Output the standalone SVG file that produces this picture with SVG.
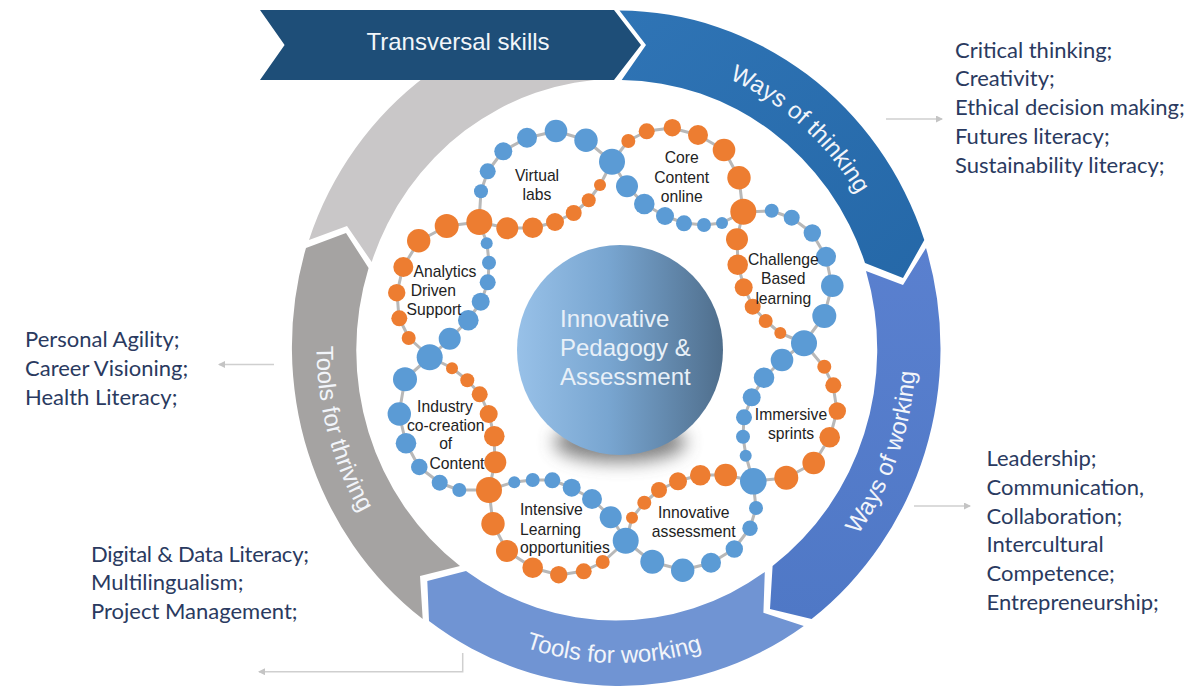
<svg xmlns="http://www.w3.org/2000/svg" width="1200" height="696" viewBox="0 0 1200 696">
<style>
.b{fill:#5b9bd5}
.o{fill:#ed7d31}
.strand{fill:none;stroke:#b8b8b8;stroke-width:3;stroke-linejoin:round}
.arr{fill:none;stroke:#cfcfcf;stroke-width:1.5;marker-end:url(#ah)}
.side{font-family:Lato,"Liberation Sans",sans-serif;font-size:22px;fill:#2a3a60}
.lab{font-family:"Liberation Sans",Arial,sans-serif;font-size:15.7px;fill:#222;text-anchor:middle}
.lft{text-anchor:start}
.ring{font-family:"Liberation Sans",Arial,sans-serif;font-size:24px;fill:#f2f5fa;text-anchor:middle}
.core{font-family:"Liberation Sans",Arial,sans-serif;font-size:24px;fill:#e8f0f8}
</style>
<defs>
<marker id="ah" markerWidth="8" markerHeight="8" refX="6" refY="3.5" orient="auto" markerUnits="userSpaceOnUse"><path d="M0,0L7,3.5L0,7Z" fill="#c4c4c4"/></marker>
<linearGradient id="sph" x1="0" y1="0" x2="1" y2="0"><stop offset="0" stop-color="#98c1e8"/><stop offset=".45" stop-color="#78a5d0"/><stop offset="1" stop-color="#4f6e8c"/></linearGradient>
<linearGradient id="wot" x1="0" y1="0" x2="1" y2="1"><stop offset="0" stop-color="#2f74b5"/><stop offset="1" stop-color="#2568a8"/></linearGradient>
<linearGradient id="wow" x1="0" y1="0" x2="0" y2="1"><stop offset="0" stop-color="#5a80cf"/><stop offset="1" stop-color="#4f78c6"/></linearGradient>
<filter id="blur" x="-50%" y="-100%" width="200%" height="300%"><feGaussianBlur stdDeviation="9"/></filter>
<path id="pWot" d="M618,55A281,294 0 0 1 894.7,298"/>
<path id="pWow" d="M767,620.6A298,314 0 0 0 898,241.6"/>
<path id="pTow" d="M425.2,589.5A300,314 0 0 0 810.8,589.5"/>
<path id="pTot" d="M371,167.7A301,316 0 0 0 490.8,635.4"/>
</defs>
<rect width="1200" height="696" fill="#fff"/>

<g id="segment-transversal-back"><path d="M309,240L347,226L371.7,262A260,270 0 0 1 614,79L614,12A324,339 0 0 0 309,240Z" fill="#c9c7c8"/></g>
<g id="segment-tools-for-thriving"><path d="M306,248L346,233L368.6,268A260,270 0 0 0 460,566L420,576L422.7,619A324,339 0 0 1 306,248Z" fill="#a5a3a2"/><text class="ring"><textPath href="#pTot" startOffset="50.7%">Tools for thriving</textPath></text></g>
<g id="segment-tools-for-working"><path d="M764.8,572L763.4,612.7L803.8,626A324,339 0 0 1 429,621L427.3,581L466,571A260,270 0 0 0 764.8,572Z" fill="#7094d3"/><text class="ring"><textPath href="#pTow" startOffset="49%">Tools for working</textPath></text></g>
<g id="segment-ways-of-working"><path d="M926,248L903,285L866,271A260,270 0 0 1 772.6,566L770,609L811.6,619A324,339 0 0 0 926,248Z" fill="url(#wow)"/><text class="ring"><textPath href="#pWow" startOffset="49.3%">Ways of working</textPath></text></g>
<g id="segment-ways-of-thinking"><path d="M619.5,10.5L646,45L621.7,80A260,270 0 0 1 865,263L903,278L924.3,240A324,339 0 0 0 619.5,10.5Z" fill="url(#wot)"/><text class="ring"><textPath href="#pWot" startOffset="50.5%">Ways of thinking</textPath></text></g>
<g id="banner-transversal-skills"><path d="M260,10L614,10L641,45L614,80L260,80L284.6,45Z" fill="#1e4e78"/><text x="458" y="50" font-family="Liberation Sans,Arial,sans-serif" font-size="24" fill="#f2f6fa" text-anchor="middle">Transversal skills</text></g>

<g id="connectors">
<g id="bead-strands">
<path class="strand" d="M612,162L586,140L556,131L527,138L503,151L488,171L481,191L479,222L507,228L533,228L555,222L574,213L589,200L600,185L612,162"/>
<path class="strand" d="M612,162L627,186L644,204L665,216L684,223L704,225L722,223L743,212L739,178L724,150L698,135L672,128L647,131L628,141L612,162"/>
<path class="strand" d="M743,212L772,211L792,218L812,233L826,257L832,286L824,316L804,343L780,333L766,321L753,307L744,287L738,265L737,239L743,212"/>
<path class="strand" d="M804,343L782,360L764,378L752,397L744,417L743,437L746,456L753,481L786,478L814,463L830,437L837,411L833,385L824,367L804,343"/>
<path class="strand" d="M753,481L726,475L700,475L678,481L659,490L644,503L632,518L626,541L652,562L683,570L711,563L734,549L750,528L756,508L753,481"/>
<path class="strand" d="M626,541L611,517L592,499L572,488L552,480L533,480L514,482L489,490L493,524L507,551L533,568L559,575L584,571L603,562L626,541"/>
<path class="strand" d="M489,490L495,462L494,436L489,414L480,394L467,380L452,368L430,357L405,379L399,414L406,443L419,467L440,483L459,490L489,490"/>
<path class="strand" d="M430,357L450,339L468,320L481,302L488,282L489,263L487,243L479,222L447,226L419,241L403,267L397,293L399,318L409,338L430,357"/>
</g>
<path class="arr" d="M886,119H942"/>
<path class="arr" d="M914,506H970"/>
<path class="arr" d="M274,364.5H219"/>
<path class="arr" d="M462.7,653V671.7H259"/>
</g>

<g id="hub-beads">
<circle class="b" cx="612" cy="161.7" r="13"/><circle class="o" cx="479.3" cy="222" r="13"/><circle class="o" cx="743.3" cy="211.7" r="13"/><circle class="b" cx="804" cy="343.3" r="13"/><circle class="b" cx="753.3" cy="481.3" r="13.3"/><circle class="b" cx="625.7" cy="540.7" r="13"/><circle class="o" cx="489" cy="490" r="13"/><circle class="b" cx="429.7" cy="357.3" r="13"/>
</g>
<g id="petal-virtual-labs">
<circle class="b" cx="586" cy="140.3" r="11.7"/><circle class="b" cx="556" cy="131" r="11.3"/><circle class="b" cx="527" cy="137.7" r="10"/><circle class="b" cx="503.3" cy="151.3" r="9"/><circle class="b" cx="487.7" cy="171.3" r="8"/><circle class="b" cx="481" cy="191.3" r="7"/>
<circle class="o" cx="507.3" cy="228.3" r="11"/><circle class="o" cx="532.7" cy="227.7" r="10.3"/><circle class="o" cx="555" cy="222" r="9"/><circle class="o" cx="573.7" cy="213" r="8"/><circle class="o" cx="588.7" cy="200.3" r="7"/><circle class="o" cx="600" cy="185" r="6"/>
<text class="lab" x="537" y="180.7">Virtual</text><text class="lab" x="537" y="200">labs</text>
</g>
<g id="petal-core-content">
<circle class="b" cx="627" cy="186.3" r="11"/><circle class="b" cx="644.3" cy="204" r="10.3"/><circle class="b" cx="665" cy="216" r="9"/><circle class="b" cx="684" cy="223.3" r="8"/><circle class="b" cx="704" cy="225" r="7"/><circle class="b" cx="722" cy="223" r="6"/>
<circle class="o" cx="739" cy="177.7" r="11.7"/><circle class="o" cx="724" cy="150" r="11.3"/><circle class="o" cx="698" cy="135" r="10"/><circle class="o" cx="672.3" cy="127.7" r="8.7"/><circle class="o" cx="646.7" cy="131.3" r="8"/><circle class="o" cx="628.3" cy="141" r="7"/>
<text class="lab" x="681.7" y="163.3">Core</text><text class="lab" x="681.7" y="182.7">Content</text><text class="lab" x="681.7" y="201.7">online</text>
</g>
<g id="petal-challenge">
<circle class="b" cx="771.7" cy="210.7" r="7"/><circle class="b" cx="791.7" cy="217.7" r="8"/><circle class="b" cx="812.3" cy="233" r="8.7"/><circle class="b" cx="826" cy="256.7" r="10"/><circle class="b" cx="832.3" cy="285.7" r="11.3"/><circle class="b" cx="824.3" cy="316" r="12"/>
<circle class="o" cx="737" cy="239.3" r="11"/><circle class="o" cx="737.7" cy="264.7" r="10.3"/><circle class="o" cx="743.7" cy="287.3" r="9"/><circle class="o" cx="752.7" cy="306.7" r="8"/><circle class="o" cx="765.7" cy="321" r="7"/><circle class="o" cx="780.3" cy="333" r="6"/>
<text class="lab" x="783.3" y="265">Challenge</text><text class="lab" x="783.3" y="284.3">Based</text><text class="lab" x="783.3" y="304">learning</text>
</g>
<g id="petal-immersive">
<circle class="b" cx="782" cy="360" r="11.3"/><circle class="b" cx="764" cy="377.7" r="10.3"/><circle class="b" cx="751.7" cy="397.3" r="9"/><circle class="b" cx="744" cy="417.3" r="8"/><circle class="b" cx="743" cy="436.7" r="7"/><circle class="b" cx="745.7" cy="455.7" r="6"/>
<circle class="o" cx="824.3" cy="366.7" r="7"/><circle class="o" cx="833.3" cy="385.3" r="8"/><circle class="o" cx="837.3" cy="411" r="8.7"/><circle class="o" cx="829.7" cy="437.3" r="10.3"/><circle class="o" cx="813.7" cy="463" r="11.3"/><circle class="o" cx="786.3" cy="477.7" r="12"/>
<text class="lab" x="791" y="420">Immersive</text><text class="lab" x="791" y="439">sprints</text>
</g>
<g id="petal-innovative-assessment">
<circle class="o" cx="725.7" cy="475" r="11.3"/><circle class="o" cx="700.3" cy="475.3" r="10.3"/><circle class="o" cx="678" cy="481.3" r="9"/><circle class="o" cx="659" cy="490" r="8"/><circle class="o" cx="644.3" cy="502.7" r="7"/><circle class="o" cx="632" cy="517.7" r="6"/>
<circle class="b" cx="756" cy="508" r="7"/><circle class="b" cx="750" cy="528.3" r="7.7"/><circle class="b" cx="734.3" cy="549" r="8.7"/><circle class="b" cx="711" cy="562.7" r="10"/><circle class="b" cx="682.7" cy="570.3" r="11.7"/><circle class="b" cx="652.3" cy="561.7" r="12"/>
<text class="lab" x="693.7" y="517.7">Innovative</text><text class="lab" x="693.7" y="536.7">assessment</text>
</g>
<g id="petal-intensive-learning">
<circle class="b" cx="610.7" cy="517.3" r="11"/><circle class="b" cx="592" cy="499" r="10"/><circle class="b" cx="571.7" cy="487.7" r="9"/><circle class="b" cx="552.3" cy="480.3" r="8"/><circle class="b" cx="532.7" cy="480" r="7"/><circle class="b" cx="514.3" cy="482.3" r="6"/>
<circle class="o" cx="493" cy="523.7" r="11.7"/><circle class="o" cx="507" cy="551" r="11"/><circle class="o" cx="532.7" cy="567.7" r="10.3"/><circle class="o" cx="558.7" cy="574.7" r="8.7"/><circle class="o" cx="583.7" cy="571.3" r="8"/><circle class="o" cx="602.7" cy="562" r="7"/>
<text class="lab lft" x="520" y="515">Intensive</text><text class="lab lft" x="520" y="534.7">Learning</text><text class="lab lft" x="520" y="553.3">opportunities</text>
</g>
<g id="petal-industry">
<circle class="o" cx="495.3" cy="462.3" r="11"/><circle class="o" cx="494.3" cy="436.3" r="10.3"/><circle class="o" cx="488.7" cy="414" r="9"/><circle class="o" cx="479.7" cy="394.3" r="8"/><circle class="o" cx="467.3" cy="380.3" r="7"/><circle class="o" cx="452" cy="368.3" r="6"/>
<circle class="b" cx="405" cy="379.3" r="12"/><circle class="b" cx="399.3" cy="414" r="11.7"/><circle class="b" cx="406" cy="443.3" r="10.3"/><circle class="b" cx="419.3" cy="467" r="8.3"/><circle class="b" cx="439.7" cy="482.7" r="8"/><circle class="b" cx="459.3" cy="490" r="7"/>
<text class="lab" x="445" y="411.7">Industry</text><text class="lab" x="445.7" y="430.7">co-creation</text><text class="lab" x="445.7" y="449">of</text><text class="lab" x="457" y="469">Content</text>
</g>
<g id="petal-analytics">
<circle class="b" cx="486.7" cy="243.3" r="6"/><circle class="b" cx="489" cy="262.7" r="7"/><circle class="b" cx="487.7" cy="282.3" r="8"/><circle class="b" cx="480.7" cy="301.7" r="9"/><circle class="b" cx="468.3" cy="320.3" r="10.3"/><circle class="b" cx="449.7" cy="338.7" r="11"/>
<circle class="o" cx="446.7" cy="226" r="12"/><circle class="o" cx="418.7" cy="240.7" r="11.7"/><circle class="o" cx="403.3" cy="267" r="10"/><circle class="o" cx="396.7" cy="292.7" r="8.7"/><circle class="o" cx="399.3" cy="318.3" r="8"/><circle class="o" cx="408.7" cy="338" r="7"/>
<text class="lab" x="445" y="276.7">Analytics</text><text class="lab" x="433.3" y="296">Driven</text><text class="lab" x="434" y="315">Support</text>
</g>

<g id="center-sphere">
<ellipse cx="620" cy="442" rx="66" ry="20" fill="#555" opacity=".75" filter="url(#blur)"/>
<ellipse cx="620" cy="350" rx="103" ry="105" fill="url(#sph)"/>
<text class="core" x="560" y="327">Innovative</text><text class="core" x="560" y="356">Pedagogy &amp;</text><text class="core" x="560" y="385">Assessment</text>
</g>

<g id="text-ways-of-thinking"><text class="side" x="955" y="57.5">Critical thinking;</text><text class="side" x="955" y="86.3">Creativity;</text><text class="side" x="955" y="115">Ethical decision making;</text><text class="side" x="955" y="144">Futures literacy;</text><text class="side" x="955" y="172.8">Sustainability literacy;</text></g>
<g id="text-ways-of-working"><text class="side" x="986.5" y="466">Leadership;</text><text class="side" x="986.5" y="494.8">Communication,</text><text class="side" x="986.5" y="523.6">Collaboration;</text><text class="side" x="986.5" y="552.4">Intercultural</text><text class="side" x="986.5" y="581.2">Competence;</text><text class="side" x="986.5" y="610">Entrepreneurship;</text></g>
<g id="text-tools-for-thriving"><text class="side" x="25" y="347.3">Personal Agility;</text><text class="side" x="25" y="376.3">Career Visioning;</text><text class="side" x="25" y="405.3">Health Literacy;</text></g>
<g id="text-tools-for-working"><text class="side" x="91" y="561.5" textLength="218">Digital &amp; Data Literacy;</text><text class="side" x="91" y="590.3">Multilingualism;</text><text class="side" x="91" y="619">Project Management;</text></g>
</svg>
